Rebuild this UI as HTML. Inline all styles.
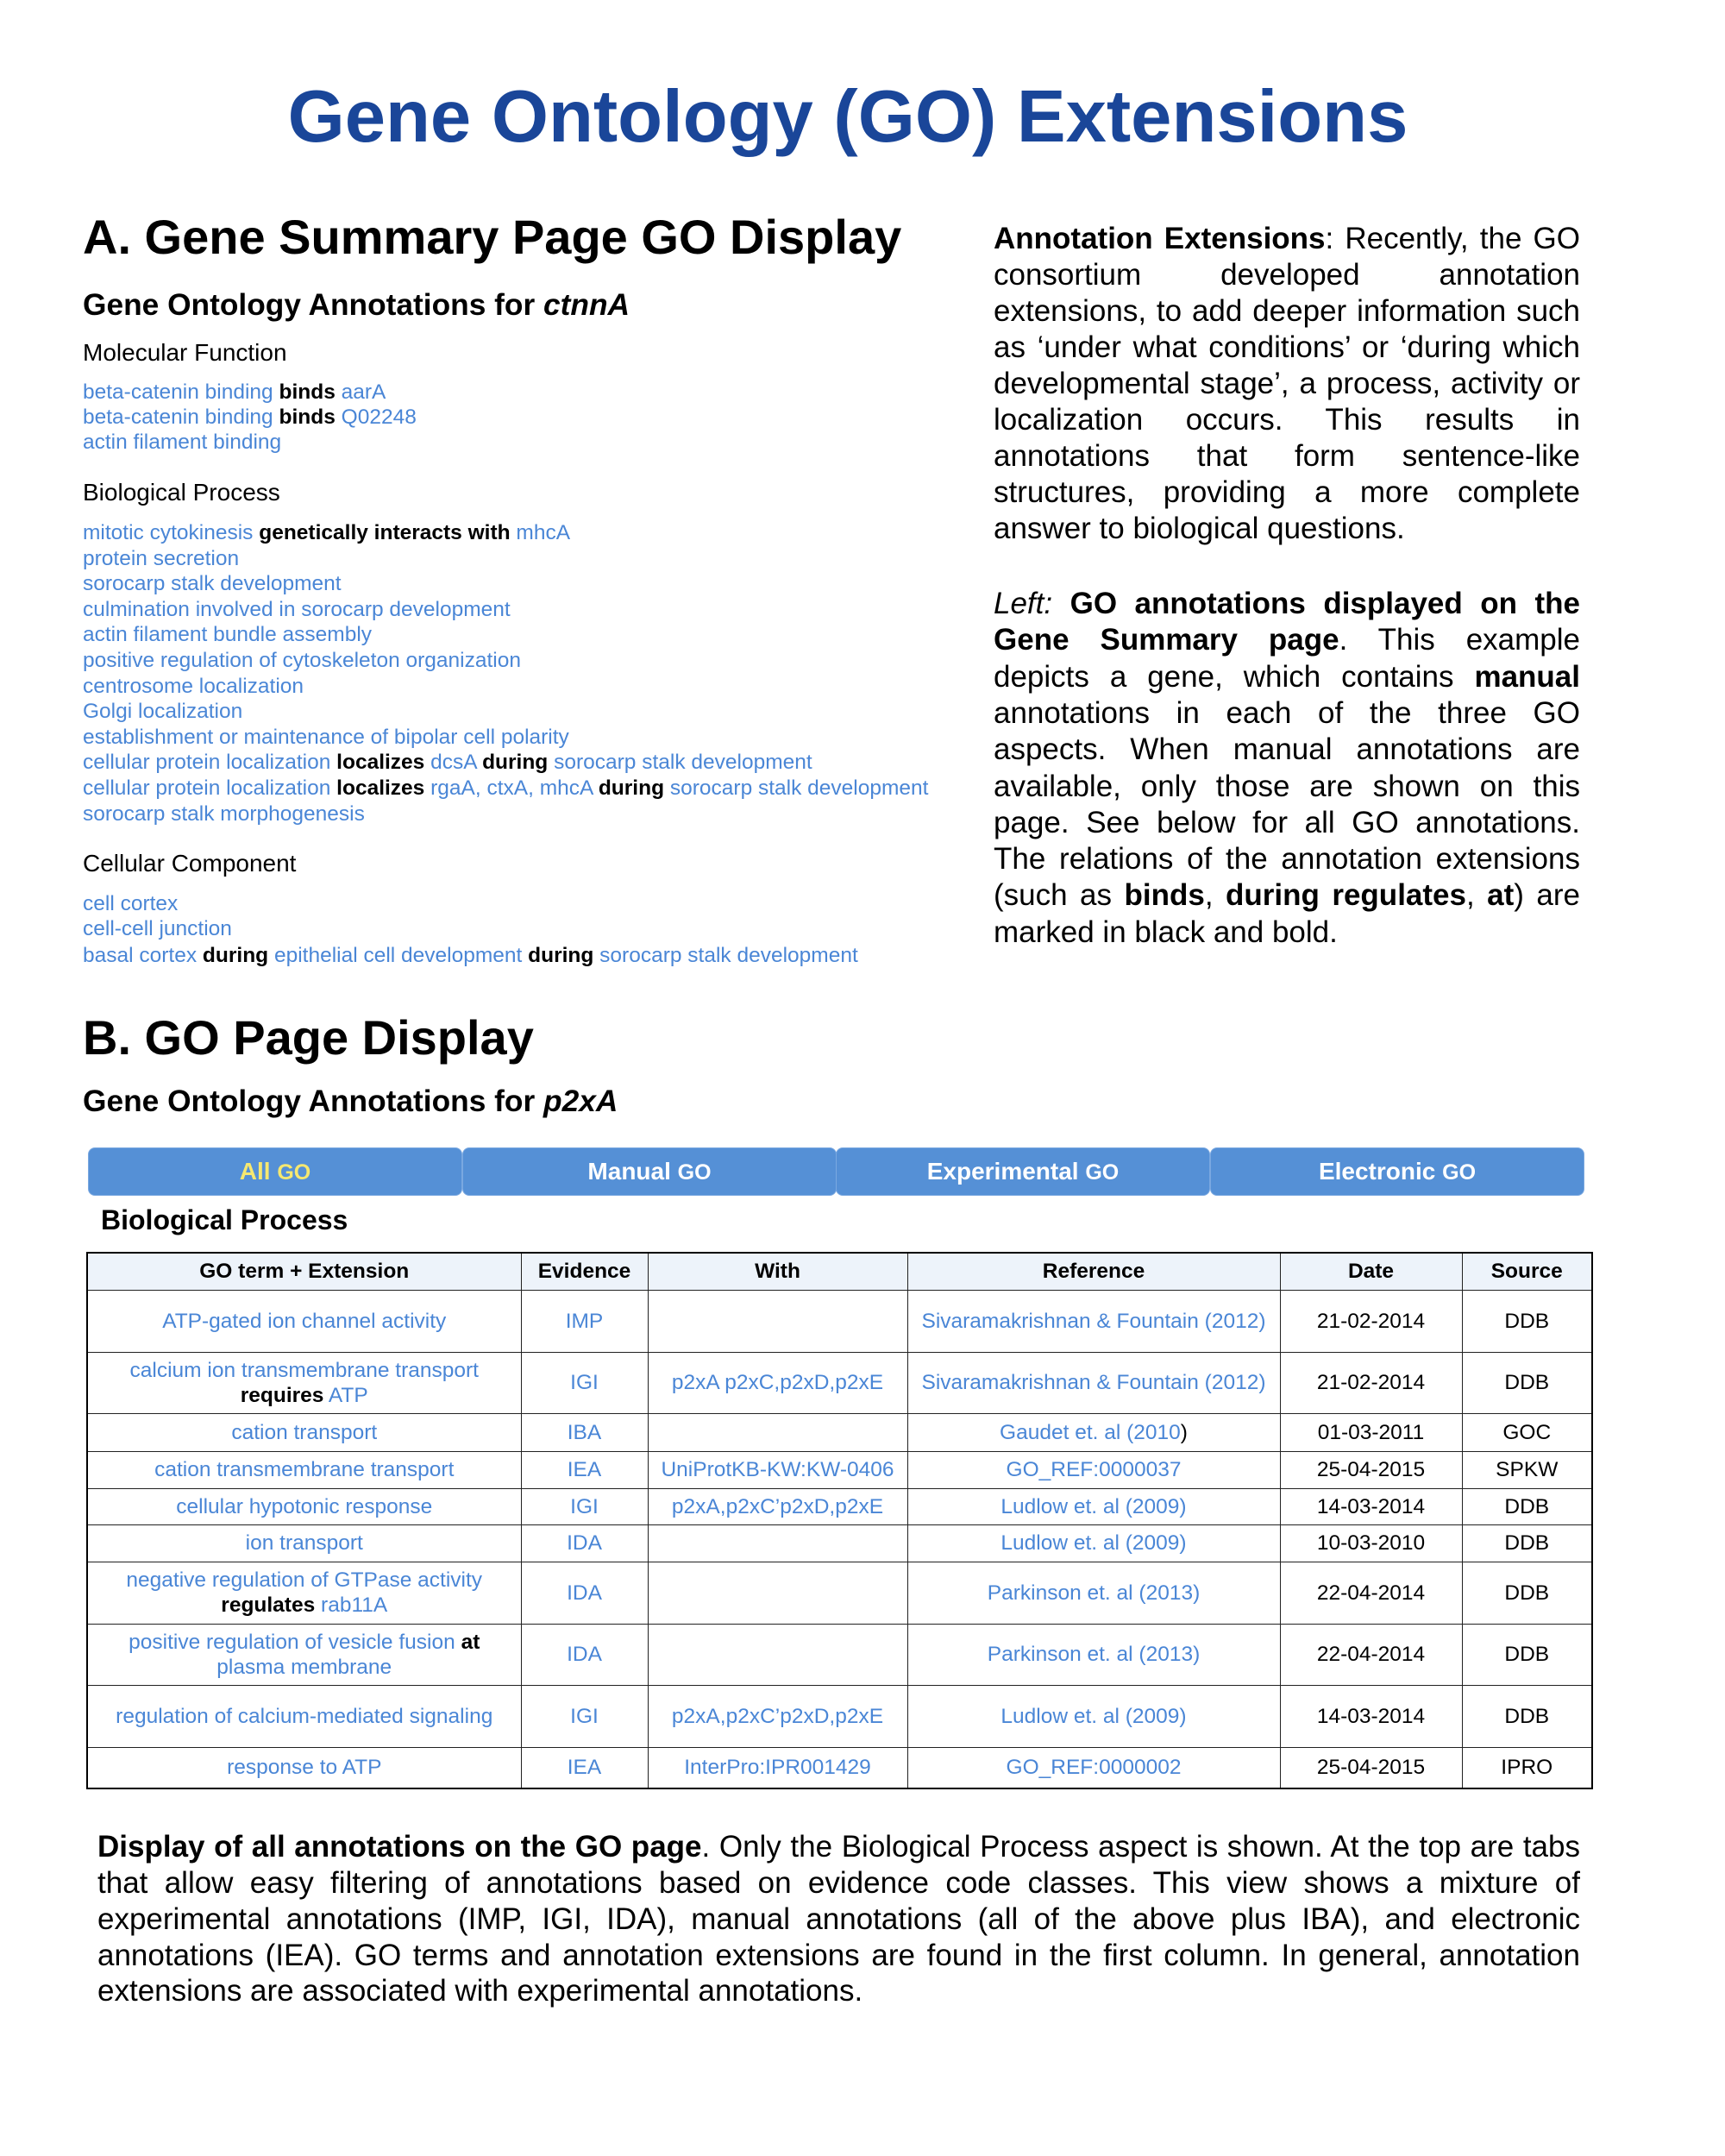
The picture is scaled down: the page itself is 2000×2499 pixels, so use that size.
<!DOCTYPE html>
<html><head><meta charset="utf-8">
<style>
*{margin:0;padding:0;box-sizing:border-box}
body{width:2000px;height:2499px;background:#fff;position:relative;overflow:hidden;font-family:"Liberation Sans",Arial,sans-serif;color:#000}
.a{position:absolute;line-height:1;white-space:nowrap}
.b{color:#4a86d6}
.l{font-size:24.5px;left:96px}
.j{position:absolute;line-height:1;font-size:35px;text-align:justify;text-align-last:justify;white-space:nowrap}
.j.n{text-align-last:left}
.tab{position:absolute;top:1330px;height:56px;width:434px;background:#5590d6;border:1px solid #7aa8e0;border-radius:8px;color:#fff;font-weight:bold;font-size:28px;text-align:center;line-height:54px}
table{position:absolute;left:100px;top:1451px;width:1745px;border-collapse:collapse;border:2.5px solid #000;table-layout:fixed}
td,th{border:1.5px solid #222;text-align:center;vertical-align:middle;font-size:24.5px;line-height:29px;padding:0 2px;white-space:nowrap}
th{background:#edf3fa;font-weight:bold;height:43px}
</style></head><body>
<div class="a" style="left:0;width:1966px;text-align:center;top:93px;font-size:85px;font-weight:bold;color:#1a4699">Gene Ontology (GO) Extensions</div>
<div class="a" style="left:96px;top:247px;font-size:56px;font-weight:bold">A. Gene Summary Page GO Display</div>
<div class="a" style="left:96px;top:336px;font-size:35.3px;font-weight:bold">Gene Ontology Annotations for <i>ctnnA</i></div>
<div class="a" style="left:96px;top:395px;font-size:28px">Molecular Function</div>
<div class="a l" style="top:443px"><span class="b">beta-catenin binding</span> <b>binds</b> <span class="b">aarA</span></div>
<div class="a l" style="top:472px"><span class="b">beta-catenin binding</span> <b>binds</b> <span class="b">Q02248</span></div>
<div class="a l b" style="top:501px">actin filament binding</div>
<div class="a" style="left:96px;top:557px;font-size:28px">Biological Process</div>
<div class="a l" style="top:606px"><span class="b">mitotic cytokinesis</span> <b>genetically interacts with</b> <span class="b">mhcA</span></div>
<div class="a l b" style="top:635.6px">protein secretion</div>
<div class="a l b" style="top:665.2px">sorocarp stalk development</div>
<div class="a l b" style="top:694.8px">culmination involved in sorocarp development</div>
<div class="a l b" style="top:724.4px">actin filament bundle assembly</div>
<div class="a l b" style="top:754px">positive regulation of cytoskeleton organization</div>
<div class="a l b" style="top:783.6px">centrosome localization</div>
<div class="a l b" style="top:813.2px">Golgi localization</div>
<div class="a l b" style="top:842.8px">establishment or maintenance of bipolar cell polarity</div>
<div class="a l" style="top:872.4px"><span class="b">cellular protein localization</span> <b>localizes</b> <span class="b">dcsA</span> <b>during</b> <span class="b">sorocarp stalk development</span></div>
<div class="a l" style="top:902px"><span class="b">cellular protein localization</span> <b>localizes</b> <span class="b">rgaA, ctxA, mhcA</span> <b>during</b> <span class="b">sorocarp stalk development</span></div>
<div class="a l b" style="top:931.6px">sorocarp stalk morphogenesis</div>
<div class="a" style="left:96px;top:987px;font-size:28px">Cellular Component</div>
<div class="a l b" style="top:1036px">cell cortex</div>
<div class="a l b" style="top:1065px">cell-cell junction</div>
<div class="a l" style="top:1096px"><span class="b">basal cortex</span> <b>during</b> <span class="b">epithelial cell development</span> <b>during</b> <span class="b">sorocarp stalk development</span></div>

<div style="position:absolute;left:1152px;width:680px;top:0">
<div class="j" style="top:259px;width:680px"><b>Annotation Extensions</b>: Recently, the GO</div>
<div class="j" style="top:301px;width:680px">consortium developed annotation</div>
<div class="j" style="top:343px;width:680px">extensions, to add deeper information such</div>
<div class="j" style="top:385px;width:680px">as ‘under what conditions’ or ‘during which</div>
<div class="j" style="top:427px;width:680px">developmental stage’, a process, activity or</div>
<div class="j" style="top:469px;width:680px">localization occurs. This results in</div>
<div class="j" style="top:511px;width:680px">annotations that form sentence-like</div>
<div class="j" style="top:553px;width:680px">structures, providing a more complete</div>
<div class="j n" style="top:595px;width:680px">answer to biological questions.</div>
<div class="j" style="top:682px;width:680px"><i>Left:</i> <b>GO annotations displayed on the</b></div>
<div class="j" style="top:724px;width:680px"><b>Gene Summary page</b>. This example</div>
<div class="j" style="top:767px;width:680px">depicts a gene, which contains <b>manual</b></div>
<div class="j" style="top:809px;width:680px">annotations in each of the three GO</div>
<div class="j" style="top:851px;width:680px">aspects. When manual annotations are</div>
<div class="j" style="top:894px;width:680px">available, only those are shown on this</div>
<div class="j" style="top:936px;width:680px">page. See below for all GO annotations.</div>
<div class="j" style="top:978px;width:680px">The relations of the annotation extensions</div>
<div class="j" style="top:1020px;width:680px">(such as <b>binds</b>, <b>during regulates</b>, <b>at</b>) are</div>
<div class="j n" style="top:1063px;width:680px">marked in black and bold.</div>
</div>

<div class="a" style="left:96px;top:1175px;font-size:56px;font-weight:bold">B. GO Page Display</div>
<div class="a" style="left:96px;top:1259px;font-size:35.3px;font-weight:bold">Gene Ontology Annotations for <i>p2xA</i></div>
<div class="tab" style="left:102px;color:#f6e870">All <span style="font-size:25px">GO</span></div>
<div class="tab" style="left:536px">Manual <span style="font-size:25px">GO</span></div>
<div class="tab" style="left:969px">Experimental <span style="font-size:25px">GO</span></div>
<div class="tab" style="left:1403px">Electronic <span style="font-size:25px">GO</span></div>
<div class="a" style="left:117px;top:1398px;font-size:32px;font-weight:bold">Biological Process</div>

<table>
<colgroup><col style="width:503px"><col style="width:147px"><col style="width:301px"><col style="width:432px"><col style="width:211px"><col style="width:151px"></colgroup>
<tr><th>GO term + Extension</th><th>Evidence</th><th>With</th><th>Reference</th><th>Date</th><th>Source</th></tr>
<tr style="height:72px"><td class="b">ATP-gated ion channel activity</td><td class="b">IMP</td><td></td><td class="b">Sivaramakrishnan &amp; Fountain (2012)</td><td>21-02-2014</td><td>DDB</td></tr>
<tr style="height:71px"><td><span class="b">calcium ion transmembrane transport</span><br><b>requires</b> <span class="b">ATP</span></td><td class="b">IGI</td><td class="b">p2xA p2xC,p2xD,p2xE</td><td class="b">Sivaramakrishnan &amp; Fountain (2012)</td><td>21-02-2014</td><td>DDB</td></tr>
<tr style="height:44px"><td class="b">cation transport</td><td class="b">IBA</td><td></td><td><span class="b">Gaudet et. al (2010</span>)</td><td>01-03-2011</td><td>GOC</td></tr>
<tr style="height:43px"><td class="b">cation transmembrane transport</td><td class="b">IEA</td><td class="b">UniProtKB-KW:KW-0406</td><td class="b">GO_REF:0000037</td><td>25-04-2015</td><td>SPKW</td></tr>
<tr style="height:42px"><td class="b">cellular hypotonic response</td><td class="b">IGI</td><td class="b">p2xA,p2xC’p2xD,p2xE</td><td class="b">Ludlow et. al (2009)</td><td>14-03-2014</td><td>DDB</td></tr>
<tr style="height:43px"><td class="b">ion transport</td><td class="b">IDA</td><td></td><td class="b">Ludlow et. al (2009)</td><td>10-03-2010</td><td>DDB</td></tr>
<tr style="height:72px"><td><span class="b">negative regulation of GTPase activity</span><br><b>regulates</b> <span class="b">rab11A</span></td><td class="b">IDA</td><td></td><td class="b">Parkinson et. al (2013)</td><td>22-04-2014</td><td>DDB</td></tr>
<tr style="height:71px"><td><span class="b">positive regulation of vesicle fusion</span> <b>at</b><br><span class="b">plasma membrane</span></td><td class="b">IDA</td><td></td><td class="b">Parkinson et. al (2013)</td><td>22-04-2014</td><td>DDB</td></tr>
<tr style="height:72px"><td class="b">regulation of calcium-mediated signaling</td><td class="b">IGI</td><td class="b">p2xA,p2xC’p2xD,p2xE</td><td class="b">Ludlow et. al (2009)</td><td>14-03-2014</td><td>DDB</td></tr>
<tr style="height:48px"><td class="b">response to ATP</td><td class="b">IEA</td><td class="b">InterPro:IPR001429</td><td class="b">GO_REF:0000002</td><td>25-04-2015</td><td>IPRO</td></tr>
</table>

<div style="position:absolute;left:113px;top:0;width:1719px">
<div class="j" style="top:2123px;width:1719px"><b>Display of all annotations on the GO page</b>. Only the Biological Process aspect is shown. At the top are tabs</div>
<div class="j" style="top:2165px;width:1719px">that allow easy filtering of annotations based on evidence code classes. This view shows a mixture of</div>
<div class="j" style="top:2207px;width:1719px">experimental annotations (IMP, IGI, IDA), manual annotations (all of the above plus IBA), and electronic</div>
<div class="j" style="top:2249px;width:1719px">annotations (IEA). GO terms and annotation extensions are found in the first column. In general, annotation</div>
<div class="j n" style="top:2290px;width:1719px">extensions are associated with experimental annotations.</div>
</div>
</body></html>
